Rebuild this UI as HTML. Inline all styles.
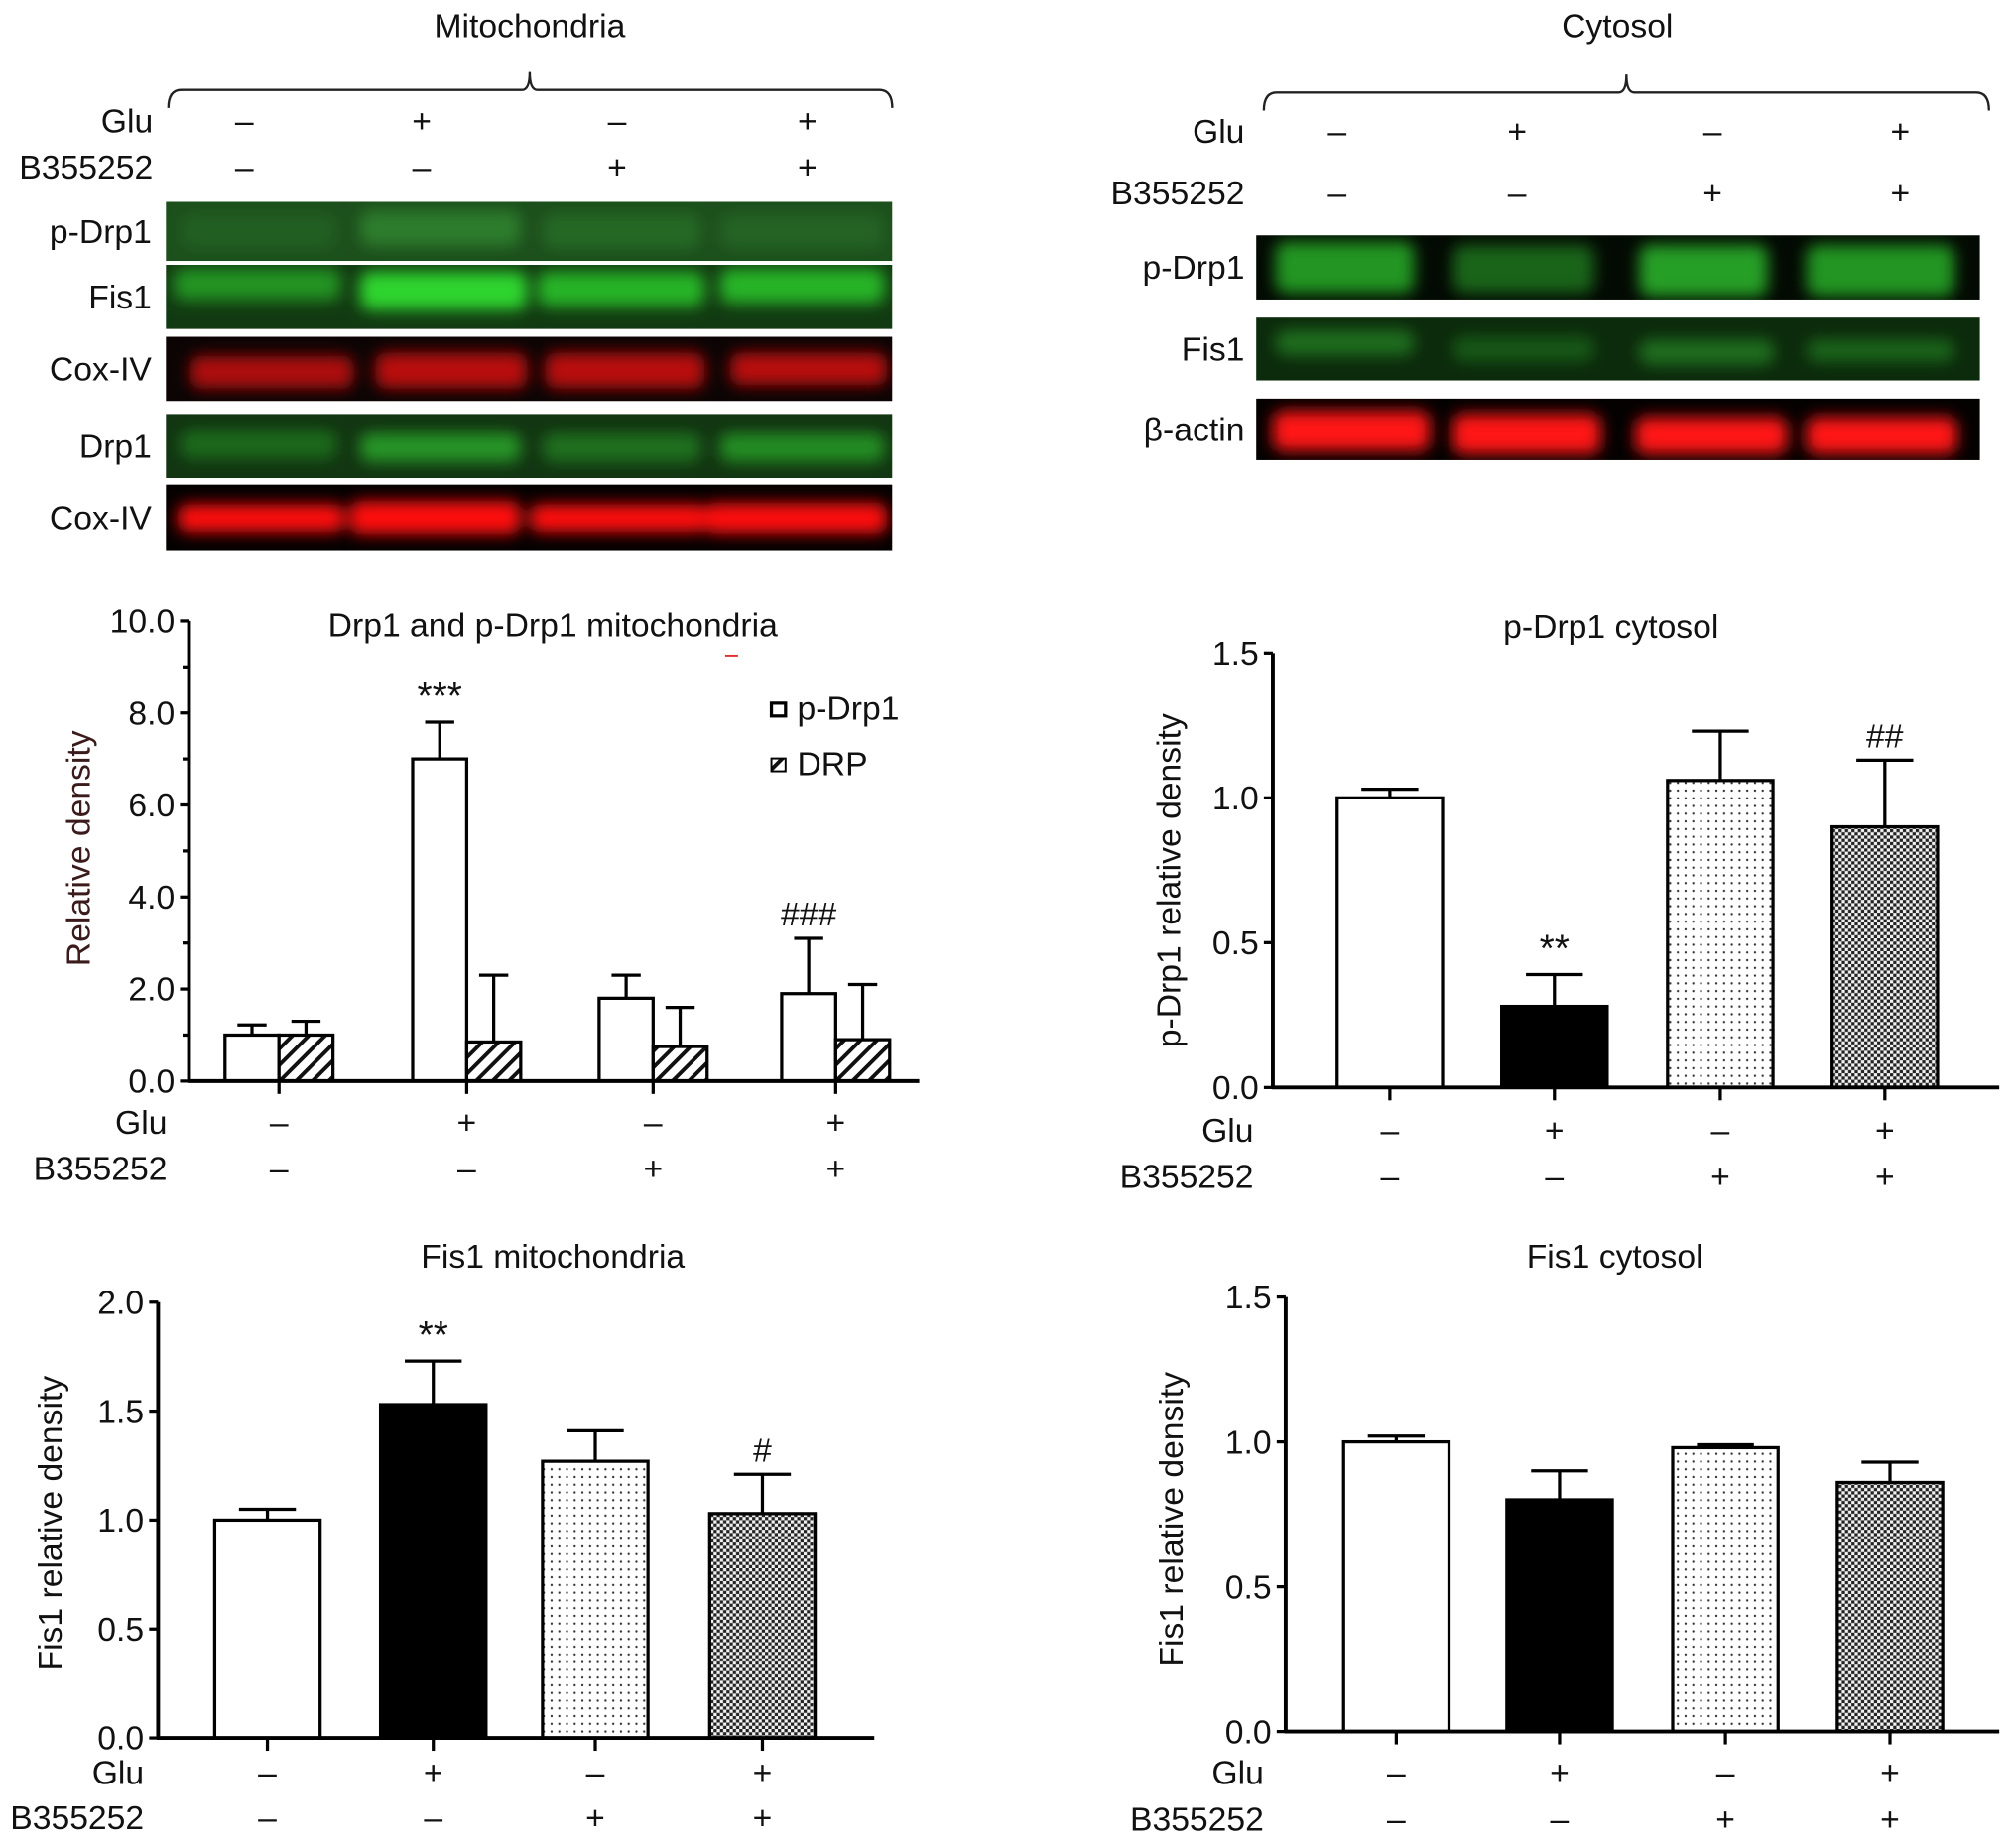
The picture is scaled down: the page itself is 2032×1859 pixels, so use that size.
<!DOCTYPE html>
<html><head><meta charset="utf-8">
<style>
html,body{margin:0;padding:0;background:#fff;}
svg{display:block;font-family:"Liberation Sans",Arial,sans-serif;}
</style></head>
<body>
<svg id="fig" width="2032" height="1859" viewBox="0 0 1568 1434.5" xmlns="http://www.w3.org/2000/svg">
<defs>
<filter id="blur" x="-20%" y="-50%" width="140%" height="200%"><feGaussianBlur stdDeviation="6"/></filter>
<pattern id="hatch" width="9" height="9" patternUnits="userSpaceOnUse" patternTransform="rotate(45)">
<rect width="9" height="9" fill="#fff"/><rect x="0" y="0" width="3" height="9" fill="#111"/></pattern>
<pattern id="dots" width="6" height="6" patternUnits="userSpaceOnUse">
<rect width="6" height="6" fill="#fff"/><circle cx="3" cy="3" r="0.9" fill="#333"/></pattern>
<pattern id="checker" width="5" height="5" patternUnits="userSpaceOnUse">
<rect width="5" height="5" fill="#f2f2f2"/><rect width="2.5" height="2.5" fill="#222"/><rect x="2.5" y="2.5" width="2.5" height="2.5" fill="#222"/></pattern>
</defs>
</svg>
<script>
// ---------- chart data ----------
const groups = ["1","2","3","4"];
const gluSigns = ["\u2013","+","\u2013","+"];
const bSigns = ["\u2013","\u2013","+","+"];

const mitoPDrp1 = [1.0, 7.0, 1.8, 1.9];
const mitoPDrp1Err = [0.22, 0.8, 0.5, 1.2];
const mitoDrp = [1.0, 0.85, 0.75, 0.9];
const mitoDrpErr = [0.3, 1.45, 0.85, 1.2];
const mitoTicks = [0, 2, 4, 6, 8, 10];
const mitoTickLabels = ["0.0","2.0","4.0","6.0","8.0","10.0"];
const mitoMarks = ["", "***", "", "###"];

const cytoPDrp1 = [1.0, 0.28, 1.06, 0.9];
const cytoPDrp1Err = [0.03, 0.11, 0.17, 0.23];
const cytoPDrp1Ticks = [0, 0.5, 1.0, 1.5];
const cytoPDrp1TickLabels = ["0.0","0.5","1.0","1.5"];
const cytoPDrp1Marks = ["", "**", "", "##"];

const mitoFis1 = [1.0, 1.53, 1.27, 1.03];
const mitoFis1Err = [0.05, 0.2, 0.14, 0.18];
const mitoFis1Ticks = [0, 0.5, 1.0, 1.5, 2.0];
const mitoFis1TickLabels = ["0.0","0.5","1.0","1.5","2.0"];
const mitoFis1Marks = ["", "**", "", "#"];

const cytoFis1 = [1.0, 0.8, 0.98, 0.86];
const cytoFis1Err = [0.02, 0.1, 0.01, 0.07];
const cytoFis1Ticks = [0, 0.5, 1.0, 1.5];
const cytoFis1TickLabels = ["0.0","0.5","1.0","1.5"];
const cytoFis1Marks = ["", "", "", ""];

const fills4 = ["#fff","#000","url(#dots)","url(#checker)"];

// ---------- helpers ----------
const NS = "http://www.w3.org/2000/svg";
const svg = document.getElementById("fig");
const FS = 26;
let clipId = 0;
function mk(tag, attrs, parent){
  const e = document.createElementNS(NS, tag);
  for (const k in attrs) e.setAttribute(k, attrs[k]);
  (parent || svg).appendChild(e);
  return e;
}
function txt(s, x, y, size, anchor, parent, extra){
  const a = {x:x, y:y, "font-size":size, "text-anchor":anchor||"middle", fill:"#111"};
  if (extra) for (const k in extra) a[k]=extra[k];
  const t = mk("text", a, parent);
  t.textContent = s;
  return t;
}

// ---------- blots ----------
function bracket(x1, x2, y, cx, name){
  const g = mk("g", {});
  
  
  mk("path", {d:`M${x1},${y+14} Q${x1},${y} ${x1+10},${y} L${cx-6},${y} Q${cx},${y} ${cx},${y-14} Q${cx},${y} ${cx+6},${y} L${x2-10},${y} Q${x2},${y} ${x2},${y+14}`, fill:"none", stroke:"#222", "stroke-width":1.8}, g);
}
function signRow(label, labelX, y, xs, signs, name){
  const g = mk("g", {});
  
  
  txt(label, labelX, y+9, FS, "end", g);
  xs.forEach((x,i)=>{ txt(signs[i], x, y+9, FS, "middle", g); });
}
function blotRow(x, y, w, h, color, bg, label, labelX, lanes, name){
  const g = mk("g", {});
  
  
  const id = "clip" + (clipId++);
  const cp = mk("clipPath", {id:id}, g);
  mk("rect", {x:x, y:y, width:w, height:h}, cp);
  const body = mk("g", {"clip-path":`url(#${id})`}, g);
  mk("rect", {x:x, y:y, width:w, height:h, fill:bg}, body);
  const inner = mk("g", {filter:"url(#blur)"}, body);
  lanes.forEach(l=>{
    mk("rect", {x:l[0], y:y+h*l[2], width:l[1]-l[0], height:h*l[3], rx:8, fill:color, opacity:l[4]}, inner);
  });
  txt(label, labelX, y+h/2+9, FS, "end", g);
}

// Mitochondria blot panel
txt("Mitochondria", 412, 29, FS, "middle");
bracket(131, 694, 70, 412, "mitochondria-bracket");
signRow("Glu", 119, 94, [190,328,480,628], gluSigns, "mito-blot-glu-row");
signRow("B355252", 119, 130, [190,328,480,628], bSigns, "mito-blot-b355252-row");
blotRow(129,157,565,46,"#3fb43f","#1c4f1c","p-Drp1",118,[[140,262,0.2,0.6,0.15],[280,405,0.15,0.6,0.45],[422,545,0.2,0.6,0.25],[560,688,0.2,0.6,0.2]],"blot-mito-pdrp1");
blotRow(129,206,565,50,"#2edc2e","#123a12","Fis1",118,[[135,265,0.05,0.5,0.55],[280,410,0.1,0.6,0.95],[418,548,0.1,0.55,0.75],[560,688,0.05,0.55,0.75]],"blot-mito-fis1");
blotRow(129,262,565,50,"#d81010","#0c0404","Cox-IV",118,[[148,275,0.3,0.5,0.8],[292,410,0.25,0.55,0.85],[424,548,0.25,0.55,0.85],[568,690,0.25,0.5,0.85]],"blot-mito-coxiv");
blotRow(129,322,565,50,"#2ec82e","#123512","Drp1",118,[[140,262,0.25,0.45,0.35],[280,405,0.3,0.45,0.65],[422,545,0.3,0.45,0.4],[560,688,0.3,0.45,0.6]],"blot-mito-drp1");
blotRow(129,377,565,51,"#ff1010","#050101","Cox-IV",118,[[138,268,0.3,0.42,1],[272,405,0.25,0.5,1],[412,550,0.3,0.42,1],[548,690,0.28,0.46,1]],"blot-mito-coxiv-2");

// Cytosol blot panel
txt("Cytosol", 1258, 29, FS, "middle");
bracket(983, 1547, 72, 1265, "cytosol-bracket");
signRow("Glu", 968, 102, [1040,1180,1332,1478], gluSigns, "cyto-blot-glu-row");
signRow("B355252", 968, 150, [1040,1180,1332,1478], bSigns, "cyto-blot-b355252-row");
blotRow(977,183,563,50,"#30d030","#030a03","p-Drp1",968,[[992,1100,0.1,0.8,0.7],[1130,1240,0.15,0.75,0.45],[1275,1375,0.15,0.8,0.75],[1405,1520,0.15,0.8,0.7]],"blot-cyto-pdrp1");
blotRow(977,247,563,49,"#30c030","#0c2a0c","Fis1",968,[[992,1100,0.2,0.4,0.45],[1130,1240,0.3,0.4,0.3],[1275,1380,0.35,0.4,0.45],[1405,1520,0.35,0.35,0.4]],"blot-cyto-fis1");
blotRow(977,310,563,48,"#ff1515","#040101","\u03b2-actin",968,[[990,1112,0.2,0.65,1],[1130,1245,0.25,0.65,1],[1272,1390,0.3,0.6,1],[1405,1522,0.3,0.6,1]],"blot-cyto-beta-actin");

// ---------- bar charts ----------
function chart(cfg){
  const g = mk("g", {});
  
  
  const y = v => cfg.y0 - (v - 0) / cfg.vmax * (cfg.y0 - cfg.yTop);
  const t = txt(cfg.title, cfg.titleX, cfg.titleY, FS, "middle", g);
  
  const yl = txt(cfg.ylabel, 0, 0, FS, "middle", g, {transform:`translate(${cfg.ylabelX},${cfg.ylabelY}) rotate(-90)`, fill:cfg.ylabelColor||"#111"});
  
  cfg.series.forEach((s, si)=>{
    s.values.forEach((v, i)=>{
      const cx = cfg.centers[i] + s.offset;
      const top = y(v + s.err[i]);
      const bx = cx - cfg.barW/2;
      const eb = mk("line", {x1:cx, y1:y(v), x2:cx, y2:top, stroke:"#000", "stroke-width":2.5}, g);
      
      
      const cap = mk("line", {x1:cx-cfg.barW*0.27, y1:top, x2:cx+cfg.barW*0.27, y2:top, stroke:"#000", "stroke-width":2.5}, g);
      
      
      const r = mk("rect", {x:bx, y:y(v), width:cfg.barW, height:cfg.y0 - y(v), fill:s.fills[i], stroke:"#000", "stroke-width":2.5}, g);
      
      
    });
  });
  cfg.marks.forEach((m, i)=>{
    if (!m) return;
    const s = cfg.series[0];
    const top = y(s.values[i] + s.err[i]);
    const mt = txt(m, cfg.centers[i] + s.offset, top - 10, m[0]==="*"?30:26, "middle", g);
    
  });
  const ax = mk("g", {}, g);
  
  
  mk("line", {x1:cfg.ax, y1:cfg.y0+1, x2:cfg.ax, y2:cfg.yTop, stroke:"#000", "stroke-width":3}, ax);
  cfg.ticks.forEach((v, i)=>{
    mk("line", {x1:cfg.ax-7, y1:y(v), x2:cfg.ax, y2:y(v), stroke:"#000", "stroke-width":2.5}, ax);
    const tl = txt(cfg.tickLabels[i], cfg.ax-11, y(v)+9, FS, "end", ax);
    
  });
  if (cfg.minor) cfg.minor.forEach(v=>{
    mk("line", {x1:cfg.ax-5, y1:y(v), x2:cfg.ax, y2:y(v), stroke:"#000", "stroke-width":2.5}, ax);
  });
  const xa = mk("g", {}, g);
  
  
  mk("line", {x1:cfg.ax-1, y1:cfg.y0, x2:cfg.xEnd, y2:cfg.y0, stroke:"#000", "stroke-width":3}, xa);
  cfg.centers.forEach(c=>{
    mk("line", {x1:c, y1:cfg.y0, x2:c, y2:cfg.y0+10, stroke:"#000", "stroke-width":2.5}, xa);
  });
  const r1 = mk("g", {}, g);
  
  
  txt("Glu", cfg.rowLabelX, cfg.gluY+9, FS, "end", r1);
  cfg.centers.forEach((c,i)=> txt(gluSigns[i], c, cfg.gluY+9, FS, "middle", r1));
  const r2 = mk("g", {}, g);
  
  
  txt("B355252", cfg.rowLabelX, cfg.bY+9, FS, "end", r2);
  cfg.centers.forEach((c,i)=> txt(bSigns[i], c, cfg.bY+9, FS, "middle", r2));
  return g;
}

// Chart 1
const c1 = chart({name:"chart-drp1-mitochondria", title:"Drp1 and p-Drp1  mitochondria", titleX:430, titleY:495,
  ylabel:"Relative density", ylabelX:70, ylabelY:660, ylabelColor:"#3a1a1a",
  ax:147, y0:841, yTop:483, vmax:10, xEnd:715, ticks:mitoTicks, tickLabels:mitoTickLabels, minor:[1,3,5,7,9],
  centers:[217,363,508,650], barW:42, marks:mitoMarks,
  series:[{key:"p-drp1", values:mitoPDrp1, err:mitoPDrp1Err, offset:-21, fills:["#fff","#fff","#fff","#fff"]},
          {key:"drp", values:mitoDrp, err:mitoDrpErr, offset:21, fills:["url(#hatch)","url(#hatch)","url(#hatch)","url(#hatch)"]}],
  rowLabelX:130, gluY:873, bY:909});
const lg = mk("g", {}, c1);


mk("rect", {x:600, y:547, width:11, height:10, fill:"#fff", stroke:"#000", "stroke-width":2.5}, lg);
txt("p-Drp1", 620, 560, FS, "start", lg);
mk("rect", {x:600, y:590, width:11, height:10, fill:"url(#hatch)", stroke:"#000", "stroke-width":1.5}, lg);
txt("DRP", 620, 603, FS, "start", lg);
mk("line", {x1:564, y1:510, x2:574, y2:510, stroke:"#e03030", "stroke-width":1.5}, c1);

// Chart 2
chart({name:"chart-pdrp1-cytosol", title:"p-Drp1 cytosol", titleX:1253, titleY:496,
  ylabel:"p-Drp1  relative density", ylabelX:918, ylabelY:685,
  ax:990, y0:846, yTop:508, vmax:1.5, xEnd:1555, ticks:cytoPDrp1Ticks, tickLabels:cytoPDrp1TickLabels,
  centers:[1081,1209,1338,1466], barW:82, marks:cytoPDrp1Marks,
  series:[{key:"p-drp1", values:cytoPDrp1, err:cytoPDrp1Err, offset:0, fills:fills4}],
  rowLabelX:975, gluY:879, bY:915});

// Chart 3
chart({name:"chart-fis1-mitochondria", title:"Fis1 mitochondria", titleX:430, titleY:986,
  ylabel:"Fis1 relative density", ylabelX:48, ylabelY:1185,
  ax:123, y0:1352, yTop:1013, vmax:2.0, xEnd:680, ticks:mitoFis1Ticks, tickLabels:mitoFis1TickLabels,
  centers:[208,337,463,593], barW:82, marks:mitoFis1Marks,
  series:[{key:"fis1", values:mitoFis1, err:mitoFis1Err, offset:0, fills:fills4}],
  rowLabelX:112, gluY:1379, bY:1414});

// Chart 4
chart({name:"chart-fis1-cytosol", title:"Fis1 cytosol", titleX:1256, titleY:986,
  ylabel:"Fis1 relative density", ylabelX:920, ylabelY:1182,
  ax:1000, y0:1347, yTop:1009, vmax:1.5, xEnd:1555, ticks:cytoFis1Ticks, tickLabels:cytoFis1TickLabels,
  centers:[1086,1213,1342,1470], barW:82, marks:cytoFis1Marks,
  series:[{key:"fis1", values:cytoFis1, err:cytoFis1Err, offset:0, fills:fills4}],
  rowLabelX:983, gluY:1379, bY:1415});
</script>
</body></html>
